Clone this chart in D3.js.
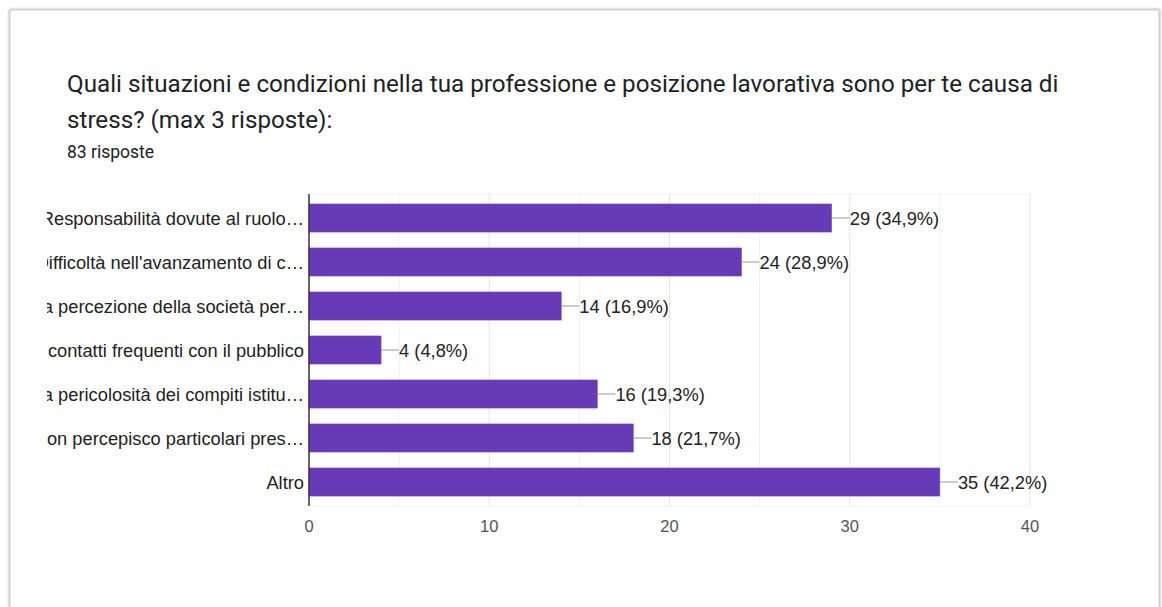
<!DOCTYPE html>
<html>
<head>
<meta charset="utf-8">
<script src="https://cdn.jsdelivr.net/npm/d3@7"></script>
<style>
  html, body { margin: 0; padding: 0; background: #ffffff; }
  svg { display: block; }
</style>
</head>
<body>
<svg id="chart" width="1162" height="607"></svg>
<script>
// Survey answers (multiple choice, max 3 per respondent)
const categories = [
  "Responsabilità dovute al ruolo…",
  "Difficoltà nell'avanzamento di c…",
  "La percezione della società per…",
  "I contatti frequenti con il pubblico",
  "La pericolosità dei compiti istitu…",
  "Non percepisco particolari pres…",
  "Altro"
];
const counts = [29, 24, 14, 4, 16, 18, 35];
const percents = ["34,9%", "28,9%", "16,9%", "4,8%", "19,3%", "21,7%", "42,2%"];
const xTicks = [0, 10, 20, 30, 40];
const gridTicks = [5, 10, 15, 20, 25, 30, 35, 40];

const svg = d3.select("#chart");

// Card with soft shadow
const defs = svg.append("defs");
const f = defs.append("filter").attr("id", "shadow").attr("x", "-5%").attr("y", "-5%").attr("width", "110%").attr("height", "110%");
f.append("feGaussianBlur").attr("in", "SourceAlpha").attr("stdDeviation", 1.5);
f.append("feComponentTransfer").append("feFuncA").attr("type", "linear").attr("slope", 0.45);
const m = f.append("feMerge");
m.append("feMergeNode");
m.append("feMergeNode").attr("in", "SourceGraphic");

svg.append("rect")
  .attr("x", 10).attr("y", 10).attr("width", 1149).attr("height", 620)
  .attr("fill", "#ffffff").attr("stroke", "#c8c8c8").attr("stroke-width", 1)
  .attr("filter", "url(#shadow)");

// Title and response count
const titleFont = "Roboto, 'Noto Sans', Arial, sans-serif";
svg.append("text").attr("x", 67).attr("y", 92)
  .attr("font-family", titleFont).attr("font-size", 24.2).attr("fill", "#202124")
  .text("Quali situazioni e condizioni nella tua professione e posizione lavorativa sono per te causa di");
svg.append("text").attr("x", 67).attr("y", 128)
  .attr("font-family", titleFont).attr("font-size", 24.2).attr("fill", "#202124")
  .text("stress? (max 3 risposte):");
svg.append("text").attr("x", 67).attr("y", 158)
  .attr("font-family", titleFont).attr("font-size", 17.5).attr("fill", "#202124")
  .text("83 risposte");

// Plot geometry
const plotLeft = 309, plotRight = 1030, plotTop = 196, plotBottom = 504;
const x = d3.scaleLinear().domain([0, 40]).range([plotLeft, plotRight]);
const y = d3.scaleBand().domain(categories).range([plotTop, plotBottom]).paddingInner(0.36).paddingOuter(0.18);

const labelFont = "Arial, 'Liberation Sans', sans-serif";
const labelSize = 18.3;

// Gridlines
svg.append("g").selectAll("line").data(gridTicks).join("line")
  .attr("x1", d => x(d)).attr("x2", d => x(d))
  .attr("y1", plotTop - 2).attr("y2", plotBottom + 2)
  .attr("stroke", d => d % 10 === 0 ? "#e4e4e4" : "#f1f1f1").attr("stroke-width", 1);
svg.append("line")
  .attr("x1", plotLeft).attr("x2", plotRight)
  .attr("y1", plotTop - 2).attr("y2", plotTop - 2)
  .attr("stroke", "#f1f1f1");
svg.append("line")
  .attr("x1", plotLeft).attr("x2", plotRight)
  .attr("y1", plotBottom + 2).attr("y2", plotBottom + 2)
  .attr("stroke", "#f1f1f1");

// Bars
svg.append("g").selectAll("rect").data(categories).join("rect")
  .attr("x", x(0))
  .attr("y", d => y(d))
  .attr("width", (d, i) => x(counts[i]) - x(0))
  .attr("height", y.bandwidth())
  .attr("fill", "#673ab7")
  .attr("stroke", "#7e57c2").attr("stroke-width", 0.5);

// Value annotations with leader lines
const ann = svg.append("g");
categories.forEach((c, i) => {
  const cy = y(c) + y.bandwidth() / 2;
  const xe = x(counts[i]);
  ann.append("line").attr("x1", xe).attr("x2", xe + 18).attr("y1", cy).attr("y2", cy)
    .attr("stroke", "#999999").attr("stroke-width", 1);
  ann.append("text").attr("x", xe + 18).attr("y", cy).attr("dy", "0.36em")
    .attr("font-family", labelFont).attr("font-size", labelSize).attr("fill", "#222222")
    .text(`${counts[i]} (${percents[i]})`);
});

// Category axis line
svg.append("line").attr("x1", plotLeft).attr("x2", plotLeft)
  .attr("y1", plotTop - 2).attr("y2", plotBottom + 2)
  .attr("stroke", "#333333").attr("stroke-width", 1.5);

// Category labels, clipped at the left edge of the label area
defs.append("clipPath").attr("id", "labelClip")
  .append("rect").attr("x", 47).attr("y", plotTop - 10).attr("width", plotLeft - 47).attr("height", plotBottom - plotTop + 20);
svg.append("g").attr("clip-path", "url(#labelClip)")
  .selectAll("text").data(categories).join("text")
  .attr("x", plotLeft - 5)
  .attr("y", d => y(d) + y.bandwidth() / 2)
  .attr("dy", "0.36em")
  .attr("text-anchor", "end")
  .attr("font-family", labelFont).attr("font-size", labelSize).attr("fill", "#222222")
  .text(d => d);

// Value axis tick labels
svg.append("g").selectAll("text").data(xTicks).join("text")
  .attr("x", d => x(d)).attr("y", 532)
  .attr("text-anchor", "middle")
  .attr("font-family", labelFont).attr("font-size", 16.5).attr("fill", "#555555")
  .text(d => d);
</script>
</body>
</html>
